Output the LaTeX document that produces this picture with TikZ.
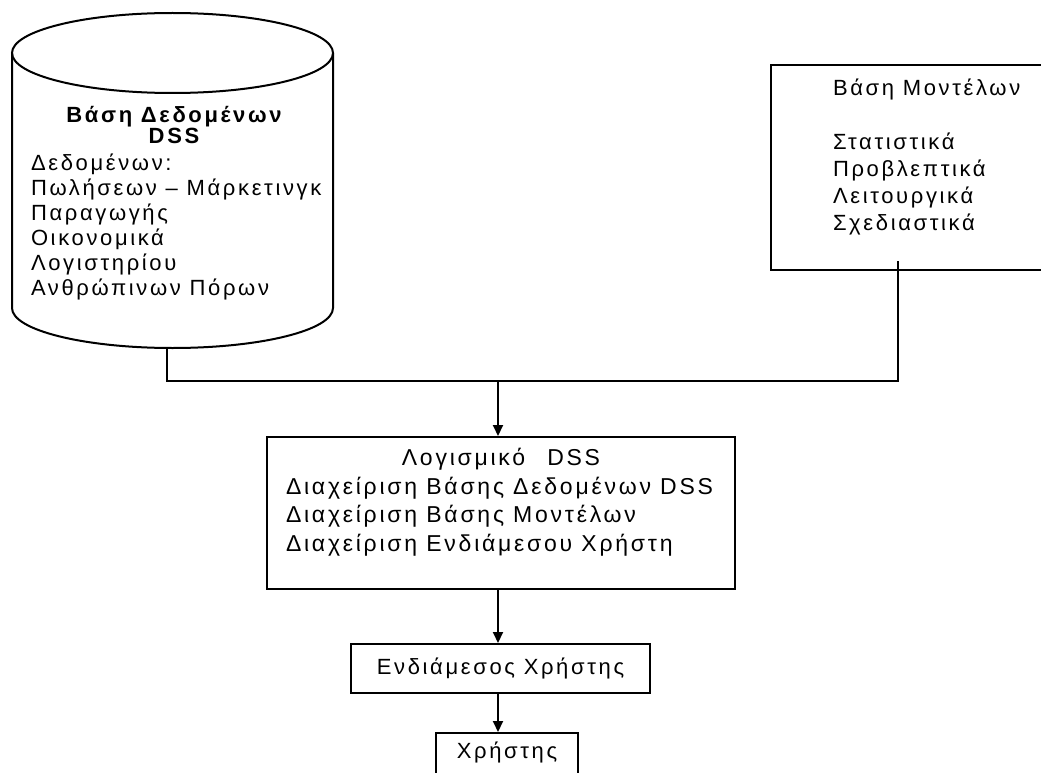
\documentclass[tikz,border=0pt]{standalone}
\usepackage{fontspec}
\setmainfont{Liberation Sans}[LetterSpace=12]
\usetikzlibrary{arrows.meta}

\tikzset{
  txt/.style={inner sep=0pt, align=left, font=\fontsize{22}{25}\selectfont},
  blk/.style={draw, inner sep=0pt},
  flow/.style={-{Triangle[length=11pt,width=10pt]}}
}

\begin{document}
\begin{tikzpicture}[x=1pt,y=-1pt,line width=2pt]
  \clip (0,0) rectangle (1041,773);
  \fill[white] (0,0) rectangle (1041,773);
  % database cylinder
  \draw (172.5,53) ellipse (160.5 and 40);
  \draw (12,53) -- (12,308) arc[start angle=180,end angle=0,x radius=160.5,y radius=40] -- (333,53);
  \coordinate (dbbot) at (167,348);
  \node[txt, align=center, anchor=base, font=\bfseries\fontsize{22}{19}\selectfont] (dbtitle) at (174,143)
    {Βάση Δεδομένων\\DSS};
  \node[txt, anchor=base west] (dblist) at (30,295)
    {Δεδομένων:\\Πωλήσεων -- Μάρκετινγκ\\Παραγωγής\\Οικονομικά\\Λογιστηρίου\\Ανθρώπινων Πόρων};
  % model base
  \node[blk, minimum width=289, minimum height=205] (models) at (915.5,167.5) {};
  \node[txt, anchor=base west, font=\fontsize{22}{27}\selectfont] (modlist) at (832,230)
    {Βάση Μοντέλων\\[27pt]Στατιστικά\\Προβλεπτικά\\Λειτουργικά\\Σχεδιαστικά};
  % software
  \node[blk, minimum width=468, minimum height=152] (soft) at (501,513) {};
  \node[txt, anchor=base, font=\fontsize{23}{28.5}\selectfont] (softtitle) at (501,465) {Λογισμικό\hspace{22pt}DSS};
  \node[txt, anchor=base west, font=\fontsize{23}{28.5}\selectfont] (softlist) at (285,551)
    {Διαχείριση Βάσης Δεδομένων DSS\\Διαχείριση Βάσης Μοντέλων\\Διαχείριση Ενδιάμεσου Χρήστη};
  % interface and user
  \node[blk, txt, align=center, minimum width=299, minimum height=49] (ui) at (500.5,668.5) {Ενδιάμεσος Χρήστης};
  \node[blk, minimum width=142, minimum height=68, anchor=north] (user) at (507,732) {};
  \node[txt] (usertext) at (507,752) {Χρήστης};
  % connectors
  \coordinate (joinL) at (167,381);
  \coordinate (joinR) at (898,381);
  \coordinate (join) at (498,381);
  \draw (dbbot) -- (joinL) -- (joinR) -- ([yshift=10pt]models.south -| joinR);
  \begin{scope}[flow]
    \draw (join) -- (join |- soft.north);
    \draw (soft.south -| join) -- (ui.north -| join);
    \draw (ui.south -| join) -- (user.north -| join);
  \end{scope}
\end{tikzpicture}
\end{document}
